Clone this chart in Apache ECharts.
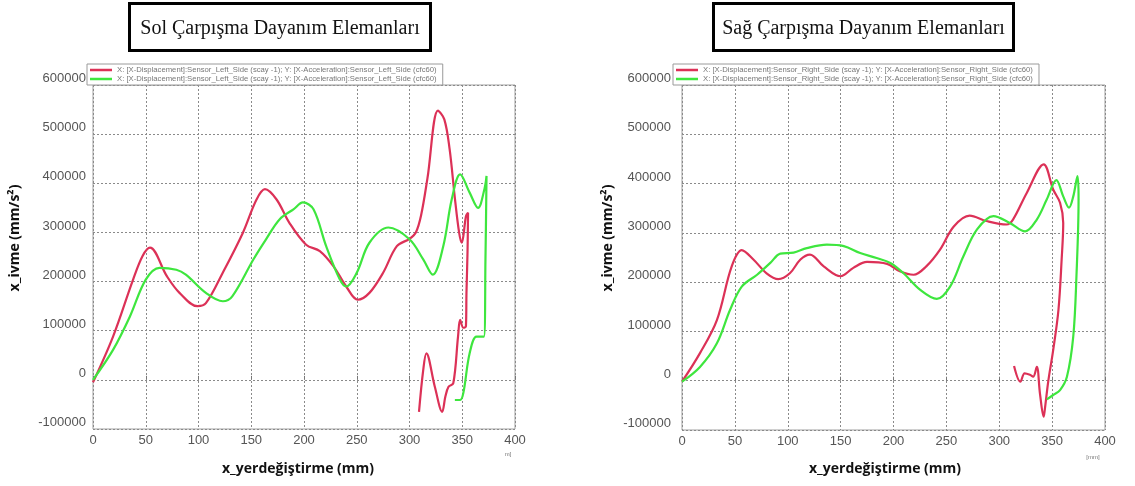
<!DOCTYPE html>
<html>
<head>
<meta charset="utf-8">
<script src="https://cdn.jsdelivr.net/npm/echarts@6/dist/echarts.min.js"></script>
<style>
html,body{margin:0;padding:0;background:#fff;}
#c{width:1135px;height:486px;}
</style>
</head>
<body>
<div id="c"></div>
<script>
// ---- data ----
const titles = ['Sol Çarpışma Dayanım Elemanları', 'Sağ Çarpışma Dayanım Elemanları'];
const xAxisTitle = 'x_yerdeğiştirme (mm)';
const yAxisTitle = 'x_ivme (mm/s²)';
const legendLeft = 'X: [X-Displacement]:Sensor_Left_Side (scay -1); Y: [X-Acceleration]:Sensor_Left_Side (cfc60)';
const legendRight = 'X: [X-Displacement]:Sensor_Right_Side (scay -1); Y: [X-Acceleration]:Sensor_Right_Side (cfc60)';
const xTicks = [0, 50, 100, 150, 200, 250, 300, 350, 400];
const yTicks = [-100000, 0, 100000, 200000, 300000, 400000, 500000, 600000];

const leftRed = [
  [0,-5000],[19,88000],[38,204000],[47,252000],[54,269000],[70,211000],[82,177000],[99,150000],
  [107,156000],[123,218000],[142,299000],[155,367000],[163,388000],[174,367000],[186,320000],
  [202,275000],[215,262000],[228,231000],[240,190000],[251,163000],[262,177000],[275,218000],
  [288,272000],[300,287000],[306,300000],[311,335000],[317,410000],[327,548000],[333,530000],[338,470000],
  [343,370000],[347,300000],[349.5,279000],[351,292000],[353.5,333000],[355.5,340000],[355,260000],[354,177000],
  [353.5,109000],[351,106000],[348,122000],[346,88000],[341.5,-7000],[337,-14000],[334,-34000],
  [331,-65000],[324,-14000],[316,54000],[313,20000],[309,-65000]
];
const leftGreen = [
  [0,0],[19,61000],[35,129000],[50,204000],[63,228000],[79,224000],[88,214000],[107,177000],
  [123,160000],[132,170000],[152,245000],[164,286000],[177,327000],[190,347000],[199,361000],
  [209,347000],[221,272000],[234,204000],[240,190000],[250,218000],[262,279000],[280,310000],
  [300,286000],[313,245000],[322,214000],[332,272000],[340,367000],[348,418000],[357,381000],
  [365,350000],[371,388000],[373,415000],[372,245000],[370.5,88000],[363.5,88000],[357,54000],
  [351,-27000],[348,-41000],[343,-41000]
];
const rightRed = [
  [0,-2000],[17,56000],[33,123000],[47,232000],[56.5,265000],[67.5,246000],[80,218000],[91,206000],
  [102,218000],[112,246000],[121,256000],[134,232000],[150,212000],[162,229000],[175,241000],
  [194,237000],[206,222000],[219,215000],[231,232000],[244,266000],[257,313000],[272,335000],
  [288,324000],[307,317000],[313,327000],[326,381000],[342,439000],[351,388000],[357.5,361000],
  [360.5,320000],[359,246000],[356,144000],[351,62000],[346.5,1000],[343,-60000],[342,-73000],
  [338.5,-26000],[335.5,28000],[332,8000],[329,12000],[324,15000],[320,-2000],[314,30000]
];
const rightGreen = [
  [0,-2000],[17,28000],[33,76000],[45.5,144000],[56.5,191000],[71,215000],[83.5,239000],[93,258000],
  [105.5,260000],[118,269000],[137,276000],[153,273000],[168.5,259000],[184,249000],[197,239000],
  [209.5,218000],[225,185000],[241,166000],[253.5,191000],[266,252000],[279,307000],[294.5,334000],
  [310,320000],[324.5,303000],[335.5,327000],[345,368000],[354,407000],[360.5,374000],[366,351000],
  [370,374000],[374,415000],[375,368000],[373,212000],[370,90000],[364,8000],[357.5,-19000],
  [351,-29000],[345,-38000]
];

// ---- styling ----
const RED = '#dc3157';
const GREEN = '#3ee63e';
const labelColor = '#555';

function makeX(gi){
  return {
    type:'value', gridIndex:gi, min:xTicks[0], max:xTicks[xTicks.length-1], interval:50,
    axisLine:{show:false},
    axisTick:{show:true, inside:true, length:4, lineStyle:{color:'#777'}},
    axisLabel:{color:labelColor, fontSize:13, fontFamily:'Liberation Sans, Arial', margin:5, formatter:v=>String(v)},
    splitLine:{show:true, lineStyle:{color:'#8a8a8a', type:[2,2], width:1}}
  };
}
function makeY(gi, margin){
  return {
    type:'value', gridIndex:gi, min:yTicks[0], max:yTicks[yTicks.length-1], interval:100000,
    axisLine:{show:false},
    axisTick:{show:false},
    axisLabel:{color:labelColor, fontSize:13, fontFamily:'Liberation Sans, Arial', margin:margin, verticalAlign:'bottom', formatter:v=>String(v)},
    splitLine:{show:true, lineStyle:{color:'#8a8a8a', type:[2,2], width:1}}
  };
}
function line(name, data, color, gi){
  return {
    name:name, type:'line', xAxisIndex:gi, yAxisIndex:gi, data:data,
    smooth:0.35, showSymbol:false, symbol:'none', animation:false,
    lineStyle:{color:color, width:2.2}, itemStyle:{color:color}
  };
}
function legend(names, left){
  return {
    data:names.map(n=>({name:n, icon:'rect'})), left:left, top:64, orient:'vertical',
    itemWidth:22, itemHeight:2.5, itemGap:1, padding:[2,4,2,3],
    borderColor:'#9a9a9a', borderWidth:1, backgroundColor:'#fff',
    textStyle:{fontSize:7.7, color:'#777', fontFamily:'Liberation Sans, Arial', padding:[0,0,0,0]},
    selectedMode:false
  };
}
function titleBox(text, x, w){
  return {
    type:'group', left:x, top:2,
    children:[
      {type:'rect', shape:{x:0,y:0,width:w,height:47}, style:{fill:'#fff', stroke:'#000', lineWidth:3}},
      {type:'text', x:w/2, y:25, style:{text:text, font:'20px "Liberation Serif", "Times New Roman", serif', fill:'#111', textAlign:'center', textVerticalAlign:'middle'}}
    ]
  };
}
function txt(text, x, y, font, rot, color){
  return {type:'text', x:x, y:y, rotation:rot||0,
    style:{text:text, font:font, fill:color||'#111', textAlign:'center', textVerticalAlign:'middle'}};
}

const chart = echarts.init(document.getElementById('c'), null, {renderer:'canvas'});
chart.setOption({
  animation:false,
  backgroundColor:'#fff',
  grid:[
    {left:93, top:85, width:422, height:344, show:true, borderColor:'#a0a0a0', borderWidth:1, backgroundColor:'#fff'},
    {left:682, top:85, width:423, height:345, show:true, borderColor:'#a0a0a0', borderWidth:1, backgroundColor:'#fff'}
  ],
  xAxis:[makeX(0), makeX(1)],
  yAxis:[makeY(0, 7), makeY(1, 11)],
  legend:[legend([legendLeft, legendLeft+' '], 87), legend([legendRight, legendRight+' '], 673)],
  series:[
    line(legendLeft, leftRed, RED, 0),
    line(legendLeft+' ', leftGreen, GREEN, 0),
    line(legendRight, rightRed, RED, 1),
    line(legendRight+' ', rightGreen, GREEN, 1)
  ],
  graphic:[
    titleBox(titles[0], 128, 301),
    titleBox(titles[1], 712, 300),
    txt(yAxisTitle, 15, 238, 'bold 14px "Open Sans", "DejaVu Sans", sans-serif', Math.PI/2),
    txt(yAxisTitle, 608, 238, 'bold 14px "Open Sans", "DejaVu Sans", sans-serif', Math.PI/2),
    txt(xAxisTitle, 298, 469, 'bold 14px "Open Sans", "DejaVu Sans", sans-serif', 0),
    txt(xAxisTitle, 885, 469, 'bold 14px "Open Sans", "DejaVu Sans", sans-serif', 0),
    txt('m]', 508, 454, '6px "Liberation Sans", Arial', 0, '#777'),
    txt('[mm]', 1093, 457, '6px "Liberation Sans", Arial', 0, '#777')
  ]
});
</script>
</body>
</html>
